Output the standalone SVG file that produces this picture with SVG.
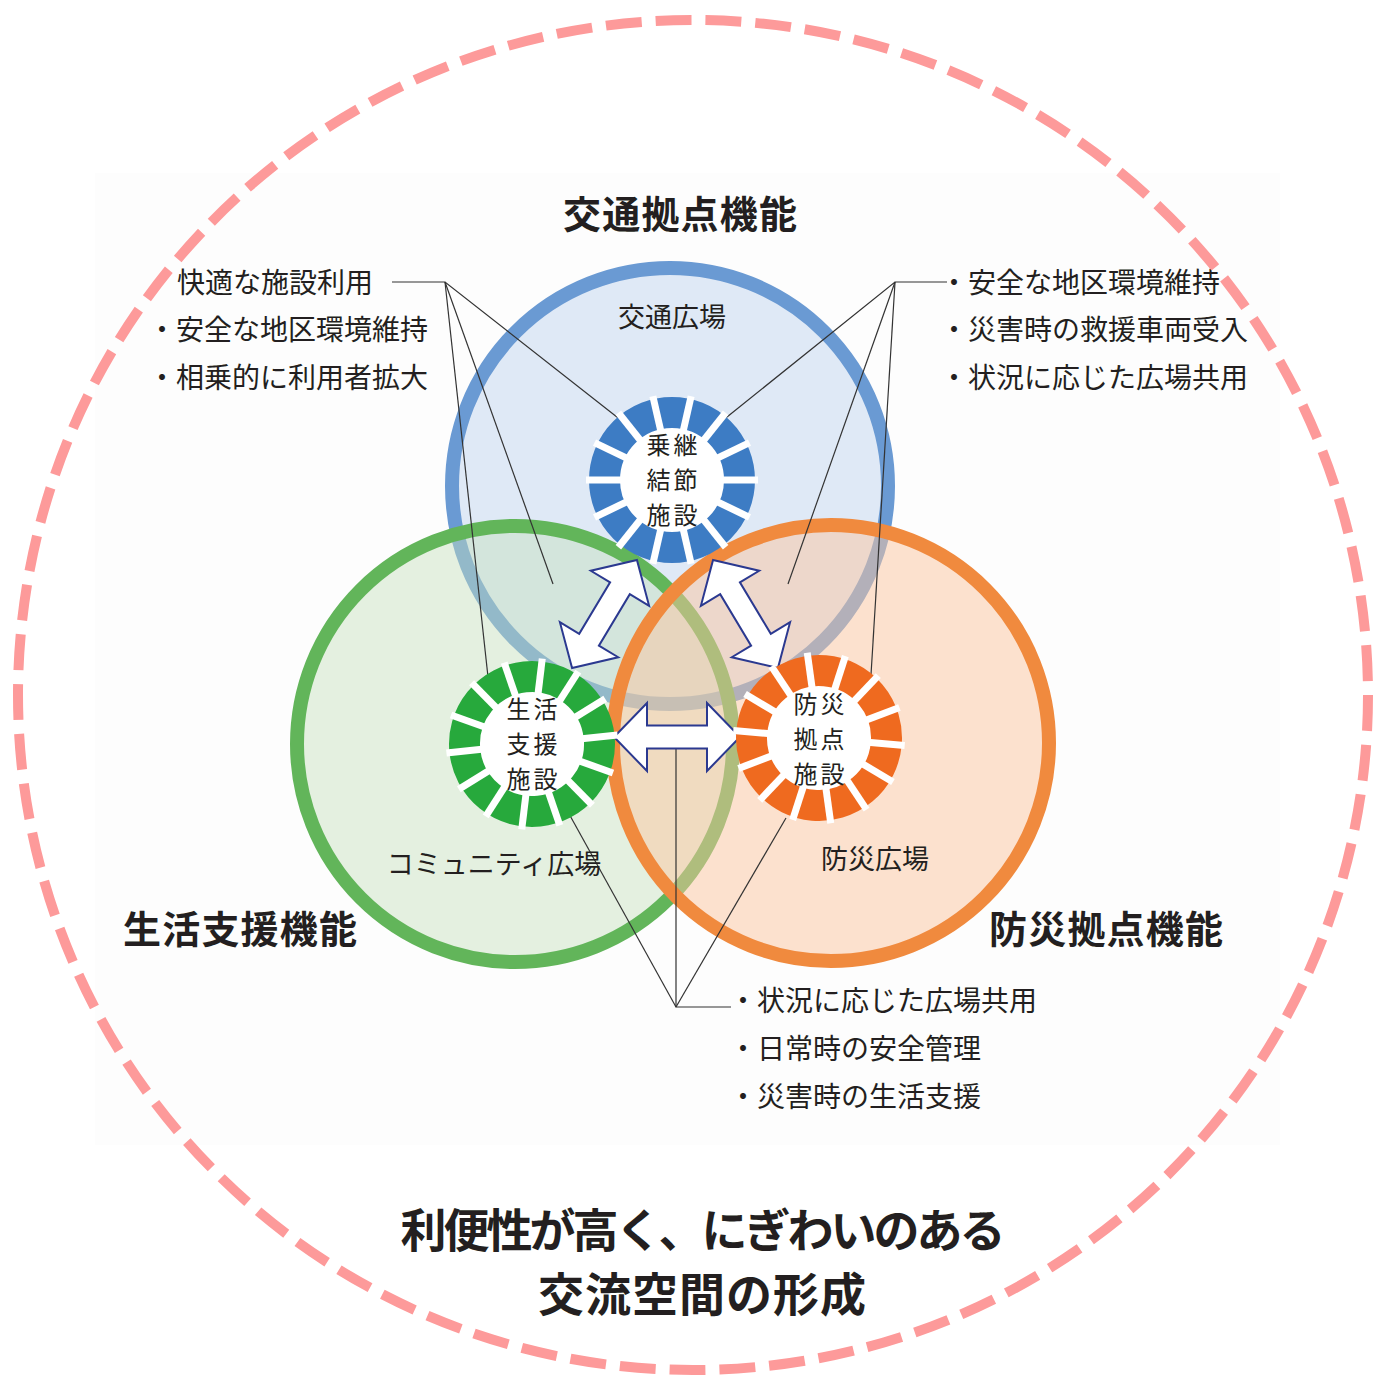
<svg xmlns="http://www.w3.org/2000/svg" xmlns:xlink="http://www.w3.org/1999/xlink" width="1375" height="1378" viewBox="0 0 1375 1378">
<style>
text { font-family: "Noto Sans CJK JP", "Noto Sans", sans-serif; fill: #231f20; }
.head { font-size: 38px; font-weight: bold; text-anchor: middle; }
.title { font-size: 46px; font-weight: bold; text-anchor: middle; }
.area { font-size: 27px; text-anchor: middle; }
.gl { font-size: 24px; text-anchor: middle; letter-spacing: 3px; }
.note { font-size: 28px; }
.lead { stroke: #333; stroke-width: 1.2; fill: none; }
.arrow { fill: #fff; stroke: #2b3990; stroke-width: 2; stroke-linejoin: miter; }
.spoke { stroke: #fff; stroke-width: 7; }
</style>
<defs>
<path id="arrowShape" d="M-63,0 L-30,-34 L-30,-11.5 L30,-11.5 L30,-34 L63,0 L30,34 L30,11.5 L-30,11.5 L-30,34 Z"/>
<g id="spokes" class="spoke">
<line x1="-19.13" y1="83.84" x2="19.13" y2="-83.84"/>
<line x1="-53.62" y1="67.24" x2="53.62" y2="-67.24"/>
<line x1="-77.49" y1="37.31" x2="77.49" y2="-37.31"/>
<line x1="-86" y1="0" x2="86" y2="0"/>
<line x1="-77.49" y1="-37.31" x2="77.49" y2="37.31"/>
<line x1="-53.62" y1="-67.24" x2="53.62" y2="67.24"/>
<line x1="-19.13" y1="-83.84" x2="19.13" y2="83.84"/>
</g>
</defs>
<rect x="0" y="0" width="1375" height="1378" fill="#fff"/>
<rect x="95" y="173" width="1185" height="972" fill="#fdfdfd"/>

<g id="circle-transport">
<circle cx="670" cy="486" r="218" fill="#dfe9f6" stroke="#6a9ad3" stroke-width="14"/>
</g>
<g id="circle-life">
<circle cx="515" cy="744" r="218" fill="#c5e0bc" fill-opacity="0.45" stroke="none"/>
<circle cx="515" cy="744" r="218" fill="none" stroke="#62b55a" stroke-width="14"/>
</g>
<g id="circle-disaster">
<circle cx="831" cy="743" r="218" fill="#fbc6a0" fill-opacity="0.5" stroke="none"/>
<circle cx="831" cy="743" r="218" fill="none" stroke="#f08a3e" stroke-width="14"/>
</g>

<g id="connectors">
<polyline class="lead" points="392,282 445,282 622,421"/>
<line class="lead" x1="445" y1="282" x2="553" y2="584"/>
<line class="lead" x1="445" y1="282" x2="488" y2="677"/>
<polyline class="lead" points="947,282 895,282 722,421"/>
<line class="lead" x1="895" y1="282" x2="788" y2="584"/>
<line class="lead" x1="895" y1="282" x2="871" y2="675"/>
<polyline class="lead" points="676,749 676,1007 731,1007"/>
<line class="lead" x1="676" y1="1007" x2="568" y2="812"/>
<line class="lead" x1="676" y1="1007" x2="786" y2="818"/>
<use href="#arrowShape" class="arrow" transform="translate(604.5,614) rotate(-59)"/>
<use href="#arrowShape" class="arrow" transform="translate(745.5,614) rotate(59)"/>
<use href="#arrowShape" class="arrow" transform="translate(677,737)"/>
</g>

<g id="gear-transport" transform="translate(672,480)">
<circle r="67.5" fill="#fff" stroke="#3d7cc4" stroke-width="31"/>
<use href="#spokes"/>
<text class="gl"><tspan x="1.5" y="-25.6">乗継</tspan><tspan x="1.5" y="9.4">結節</tspan><tspan x="1.5" y="44.4">施設</tspan></text>
</g>
<g id="gear-life" transform="translate(532,744)">
<g transform="rotate(-6)">
<circle r="67.5" fill="#fff" stroke="#27a93c" stroke-width="31"/>
<use href="#spokes"/>
</g>
<text class="gl"><tspan x="1.5" y="-25.6">生活</tspan><tspan x="1.5" y="9.4">支援</tspan><tspan x="1.5" y="44.4">施設</tspan></text>
</g>
<g id="gear-disaster" transform="translate(819,738)">
<g transform="rotate(5)">
<circle r="67.5" fill="#fff" stroke="#ef6a1f" stroke-width="31"/>
<use href="#spokes"/>
</g>
<text class="gl"><tspan x="1.5" y="-24.6">防災</tspan><tspan x="1.5" y="10.4">拠点</tspan><tspan x="1.5" y="45.4">施設</tspan></text>
</g>

<g id="labels">
<text class="head" x="680" y="228" textLength="234">交通拠点機能</text>
<text class="head" x="240" y="943" textLength="234">生活支援機能</text>
<text class="head" x="1106" y="943" textLength="234">防災拠点機能</text>
<text class="area" x="672" y="327">交通広場</text>
<text class="area" x="494" y="874">コミュニティ広場</text>
<text class="area" x="875" y="869">防災広場</text>
</g>

<g id="notes-left">
<text class="note" x="177" y="293">快適な施設利用</text>
<text class="note" x="148" y="340">・安全な地区環境維持</text>
<text class="note" x="148" y="388">・相乗的に利用者拡大</text>
</g>
<g id="notes-right">
<text class="note" x="940" y="293">・安全な地区環境維持</text>
<text class="note" x="940" y="340">・災害時の救援車両受入</text>
<text class="note" x="940" y="388">・状況に応じた広場共用</text>
</g>
<g id="notes-bottom">
<text class="note" x="729" y="1011">・状況に応じた広場共用</text>
<text class="note" x="729" y="1059">・日常時の安全管理</text>
<text class="note" x="729" y="1107">・災害時の生活支援</text>
</g>

<g id="title">
<text class="title" x="703" y="1247" textLength="605">利便性が高く、にぎわいのある</text>
<text class="title" x="702" y="1311" textLength="328">交流空間の形成</text>
</g>

<g id="boundary">
<circle cx="693" cy="695" r="675" fill="none" stroke="#fd9a9a" stroke-width="10" pathLength="4250" stroke-dasharray="36 14"/>
</g>
</svg>
